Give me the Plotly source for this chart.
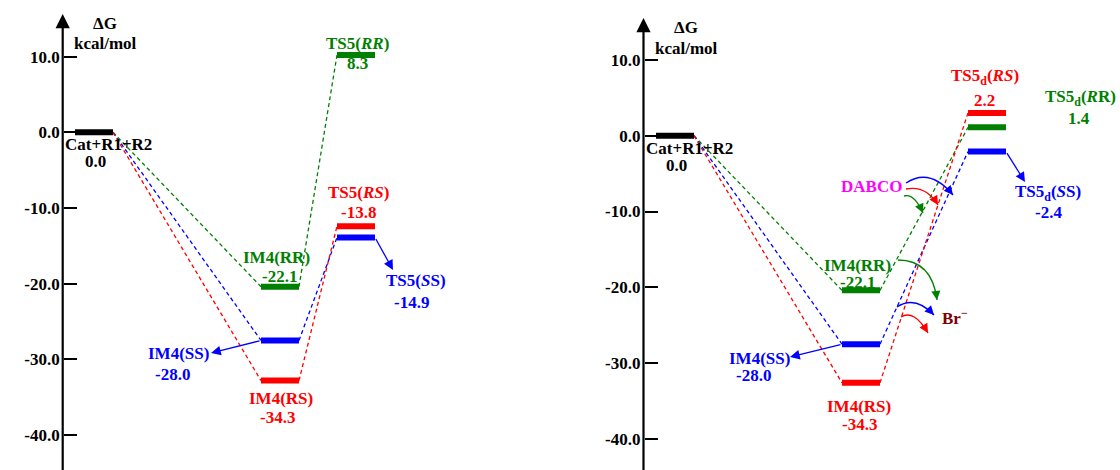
import math
import plotly.graph_objects as go

# ---------------- data ----------------
isomers = ["RR", "SS", "RS"]
isomer_colors = ["#008000", "#0000FF", "#FF0000"]

start_name = "Cat+R1+R2"
start_level = 0.0
start_label = "0.0"

im4_names = ["IM4(RR)", "IM4(SS)", "IM4(RS)"]

# left diagram (TS5)
left_im4_level = [-20.4, -27.5, -32.8]
left_im4_label = ["-22.1", "-28.0", "-34.3"]
left_ts_level = [10.2, -13.9, -12.4]
left_ts_label = ["8.3", "-14.9", "-13.8"]
left_ts_names = ["TS5(<i>RR</i>)", "TS5(<i>S</i>S)", "TS5(<i>RS</i>)"]

# right diagram (TS5d)
right_im4_level = [-20.4, -27.5, -32.6]
right_im4_label = ["-22.1", "-28.0", "-34.3"]
right_ts_level = [1.1, -2.1, 3.0]
right_ts_label = ["1.4", "-2.4", "2.2"]
right_ts_names = ["TS5<sub>d</sub>(<i>R</i>R)", "TS5<sub>d</sub>(<i>S</i>S)",
                  "TS5<sub>d</sub>(<i>RS</i>)"]

tick_vals = [10, 0, -10, -20, -30, -40]
tick_text = ["10.0", "0.0", "-10.0", "-20.0", "-30.0", "-40.0"]

# ---------------- layout helpers ----------------
W, H = 1120, 470
FONT = "Liberation Serif"
FS = 17
HW = 19  # half bar length (px)

panels = [
    dict(xa="x", ya="y", axis_px=62.7, zero_px=132.3, scale=7.57,
         stage_x=[94, 280, 356], xdom=[0, 0.5], xr=[0, 560],
         im4=left_im4_level, im4_lab=left_im4_label,
         ts=left_ts_level, ts_lab=left_ts_label, ts_names=left_ts_names,
         start_lab_pos=[(108.5, 144), (95, 161)],
         im4_name_pos=[(276, 257), (178, 353), (281, 398)],
         im4_val_pos=[(279, 276), (172, 374), (277, 417)],
         ts_name_pos=[(357, 43), (416, 280), (358, 192)],
         ts_val_pos=[(357, 63), (411, 302), (358, 212)],
         dg_pos=[(105, 23), (105, 43)], arrow_top=14,
         ss_im4_tip=(211, 353), ss_ts_tip=(393, 270)),
    dict(xa="x2", ya="y2", axis_px=643.5, zero_px=135.7, scale=7.58,
         stage_x=[675, 861, 987], xdom=[0.5, 1], xr=[560, 1120],
         im4=right_im4_level, im4_lab=right_im4_label,
         ts=right_ts_level, ts_lab=right_ts_label, ts_names=right_ts_names,
         start_lab_pos=[(689, 148), (676, 165)],
         im4_name_pos=[(857, 265), (759, 358), (859, 406)],
         im4_val_pos=[(857, 282), (753, 375), (859, 424)],
         ts_name_pos=[(1080, 98), (1048, 193), (985, 77)],
         ts_val_pos=[(1079, 118), (1048, 212), (984, 100)],
         dg_pos=[(686, 27), (686, 48)], arrow_top=18,
         ss_im4_tip=(790, 357), ss_ts_tip=(1025, 182)),
]


def v(p, py):
    return (p["zero_px"] - py) / p["scale"]


fig = go.Figure()
annotations = []
shapes = []


def text_ann(p, pos, txt, color, size=FS):
    annotations.append(dict(
        x=pos[0], y=v(p, pos[1]), xref=p["xa"], yref=p["ya"],
        text="<b>" + txt + "</b>", showarrow=False,
        font=dict(family=FONT, size=size, color=color),
        xanchor="center", yanchor="middle"))


def straight_arrow(p, tail, tip, color):
    annotations.append(dict(
        x=tip[0], y=tip[1], ax=tail[0], ay=tail[1],
        xref=p["xa"], yref=p["ya"], axref=p["xa"], ayref=p["ya"],
        text="", showarrow=True, arrowhead=2, arrowsize=1.5,
        arrowwidth=1.3, arrowcolor=color, standoff=0, startstandoff=0))


def curved_arrow(p, S, C, T, color):
    # S, C, T in pixel coordinates
    path = "M {},{} Q {},{} {},{}".format(
        S[0], v(p, S[1]), C[0], v(p, C[1]), T[0], v(p, T[1]))
    shapes.append(dict(type="path", path=path, xref=p["xa"], yref=p["ya"],
                       line=dict(color=color, width=1.4)))
    dx, dy = T[0] - C[0], T[1] - C[1]
    n = math.hypot(dx, dy)
    L = 6
    annotations.append(dict(
        x=T[0], y=v(p, T[1]), xref=p["xa"], yref=p["ya"],
        ax=-dx / n * L, ay=-dy / n * L,
        text="", showarrow=True, arrowhead=2, arrowsize=1.4,
        arrowwidth=1.3, arrowcolor=color, standoff=0, startstandoff=0))


for p in panels:
    xs = p["stage_x"]
    # dashed connectors
    for i, col in enumerate(isomer_colors):
        fig.add_trace(go.Scatter(
            x=[xs[0] + HW, xs[1] - HW, None, xs[1] + HW, xs[2] - HW],
            y=[start_level, p["im4"][i], None, p["im4"][i], p["ts"][i]],
            mode="lines", xaxis=p["xa"], yaxis=p["ya"],
            line=dict(color=col, width=1.3, dash="4px,3px"),
            hoverinfo="skip"))
    # energy levels
    fig.add_trace(go.Scatter(
        x=[xs[0] - HW, xs[0] + HW], y=[start_level, start_level],
        mode="lines", xaxis=p["xa"], yaxis=p["ya"],
        line=dict(color="black", width=6), hoverinfo="skip"))
    for i, col in enumerate(isomer_colors):
        fig.add_trace(go.Scatter(
            x=[xs[1] - HW, xs[1] + HW, None, xs[2] - HW, xs[2] + HW],
            y=[p["im4"][i], p["im4"][i], None, p["ts"][i], p["ts"][i]],
            mode="lines", xaxis=p["xa"], yaxis=p["ya"],
            line=dict(color=col, width=6), hoverinfo="skip"))

    # labels
    text_ann(p, p["start_lab_pos"][0], start_name, "black")
    text_ann(p, p["start_lab_pos"][1], start_label, "black")
    for i, col in enumerate(isomer_colors):
        text_ann(p, p["im4_name_pos"][i], im4_names[i], col)
        text_ann(p, p["im4_val_pos"][i], p["im4_lab"][i], col)
        text_ann(p, p["ts_name_pos"][i], p["ts_names"][i], col)
        text_ann(p, p["ts_val_pos"][i], p["ts_lab"][i], col)
    text_ann(p, p["dg_pos"][0], "ΔG", "black")
    text_ann(p, p["dg_pos"][1], "kcal/mol", "black")

    # y axis arrow line
    annotations.append(dict(
        x=p["axis_px"], y=v(p, p["arrow_top"]),
        ax=p["axis_px"], ay=v(p, H + 5),
        xref=p["xa"], yref=p["ya"], axref=p["xa"], ayref=p["ya"],
        text="", showarrow=True, arrowhead=2, arrowsize=1.3,
        arrowwidth=2.2, arrowcolor="black", standoff=0, startstandoff=0))

    # SS pointer arrows
    blue = isomer_colors[1]
    straight_arrow(p, (xs[1] - HW, p["im4"][1]),
                   (p["ss_im4_tip"][0], v(p, p["ss_im4_tip"][1])), blue)
    straight_arrow(p, (xs[2] + HW, p["ts"][1]),
                   (p["ss_ts_tip"][0], v(p, p["ss_ts_tip"][1])), blue)

# right panel extras: DABCO and Br-
pr = panels[1]
text_ann(pr, (871, 186), "DABCO", "#FF00FF")
text_ann(pr, (955, 317), "Br<sup>−</sup>", "#800000")
curved_arrow(pr, (906, 183), (930, 167), (953, 195), "#0000FF")
curved_arrow(pr, (906, 189), (926, 185), (938, 205), "#FF0000")
curved_arrow(pr, (904, 196), (914, 193), (923, 213), "#008000")
curved_arrow(pr, (898, 260), (932, 260), (937, 300), "#008000")
curved_arrow(pr, (897, 307), (915, 295), (934, 315), "#0000FF")
curved_arrow(pr, (901, 317), (914, 309), (928, 333), "#FF0000")

layout = dict(
    width=W, height=H, margin=dict(l=0, r=0, t=0, b=0),
    paper_bgcolor="white", plot_bgcolor="white", showlegend=False,
    annotations=annotations, shapes=shapes,
)
for k, p in enumerate(panels):
    sfx = "" if k == 0 else "2"
    layout["xaxis" + sfx] = dict(domain=p["xdom"], range=p["xr"], visible=False,
                                 anchor=p["ya"], fixedrange=True)
    layout["yaxis" + sfx] = dict(
        domain=[0, 1],
        range=[(p["zero_px"] - H) / p["scale"], p["zero_px"] / p["scale"]],
        anchor="free", position=p["axis_px"] / W,
        showline=False, showgrid=False, zeroline=False,
        ticks="inside", ticklen=13, tickwidth=2, tickcolor="black",
        tickvals=tick_vals, ticktext=tick_text, ticklabelstandoff=3,
        tickfont=dict(family=FONT, size=FS, color="black", weight="bold"),
        fixedrange=True)

fig.update_layout(**layout)
fig.write_html("out.html", config={"displayModeBar": False},
               post_script="document.body.style.margin='0px';"
                           "document.body.style.overflow='hidden';")
